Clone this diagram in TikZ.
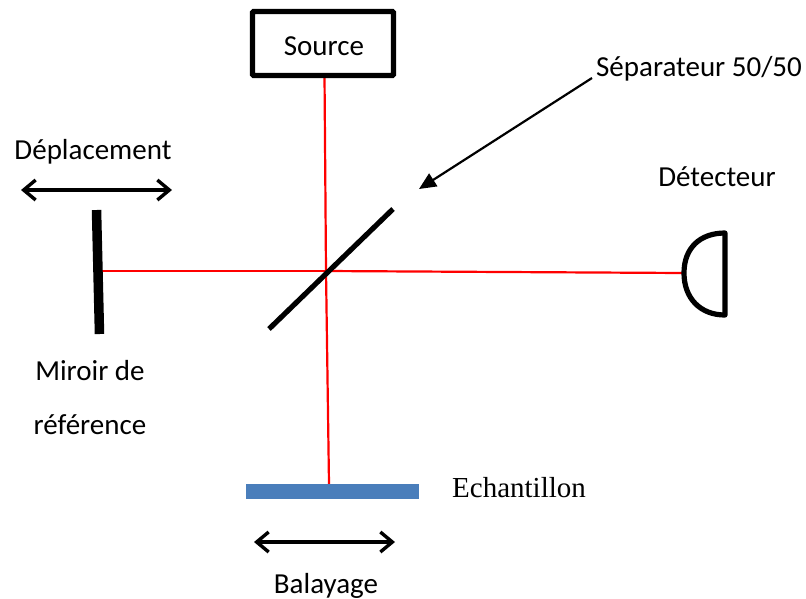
\documentclass[tikz,border=0pt]{standalone}
\usepackage{fontspec}
\setmainfont{Carlito}
\newfontfamily\serifname{Liberation Serif}
\usetikzlibrary{arrows}
\usetikzlibrary{arrows.meta}
\definecolor{sampleblue}{RGB}{74,126,187}
\tikzset{
        % Light beam
        beam/.style={red, line width=2.2pt},
        % Thick optical parts
        optic/.style={black, line width=5.2pt},
        % Double arrows
        travel/.style={black, line width=3.4pt, line cap=round, {Straight Barb[length=12pt,width=20pt,line width=3.4pt]}-{Straight Barb[length=12pt,width=20pt,line width=3.4pt]}},
        % Text labels
        label_text/.style={align=center,inner sep=0pt,font=\fontsize{29}{34}\selectfont}
}
\begin{document}
\begin{tikzpicture}[x=1pt,y=-1pt]
    \useasboundingbox (0,0) rectangle (806,598);
    % Beams
    \coordinate (center) at (326,271);
    \coordinate (beam_top) at (324.5,75);
    \coordinate (beam_left) at (102,271);
    \coordinate (beam_right) at (684,273);
    \coordinate (beam_bottom) at (329,484);
    \draw[beam] (beam_top) -- (center);
    \draw[beam] (center) -- (beam_bottom);
    \draw[beam] (beam_left) -- (center);
    \draw[beam] (center) -- (beam_right);
    \node[draw, line width=5.2pt, rounded corners=1pt, minimum width=141pt, minimum height=64pt, inner sep=0pt, label_text] (source) at (323,43.5) {};
    % Splitter
    \coordinate (split_a) at (269,329);
    \coordinate (split_b) at (393,209);
    \draw[optic] (split_a) -- (split_b);
    % Mirror
    \coordinate (mirror_a) at (96.5,210);
    \coordinate (mirror_b) at (99.5,334);
    \draw[black, line width=9.5pt] (mirror_a) -- (mirror_b);
    % Sample
    \node[fill=sampleblue, minimum width=173pt, minimum height=15pt, inner sep=0pt] (sample) at (332.5,491.5) {};
    % Detector
    \coordinate (det_a) at (725,233);
    \coordinate (det_b) at (725,315);
    \draw[black, line width=5.2pt, line join=round] (det_a) .. controls (700,233) and (684,248) .. (684,273) .. controls (684,298) and (700,315) .. (det_b) -- cycle;
    % Arrows
    \coordinate (arrow_a) at (592,78);
    \coordinate (arrow_b) at (419,189);
    \draw[black, line width=2.2pt, -{Stealth[length=17pt,width=15pt,inset=0pt]}] (arrow_a) -- (arrow_b);
    \coordinate (move_a) at (21,190);
    \coordinate (move_b) at (172,190);
    \draw[travel] (move_a) -- (move_b);
    \coordinate (scan_a) at (254,542);
    \coordinate (scan_b) at (395,542);
    \draw[travel] (scan_a) -- (scan_b);
    % Labels
    \node[label_text] (lbl_source) at (324,46.5) {Source};
    \node[label_text] (lbl_move) at (93,152) {Déplacement};
    \node[label_text] (lbl_split) at (699,69) {Séparateur 50/50};
    \node[label_text] (lbl_det) at (717,177) {Détecteur};
    \node[label_text] (lbl_mirror_a) at (90,371) {Miroir de};
    \node[label_text] (lbl_mirror_b) at (90,424.5) {référence};
    \node[label_text, font=\serifname\fontsize{29}{34}\selectfont] (lbl_sample) at (519,488) {Echantillon};
    \node[label_text] (lbl_scan) at (326,586) {Balayage};
\end{tikzpicture}
\end{document}
